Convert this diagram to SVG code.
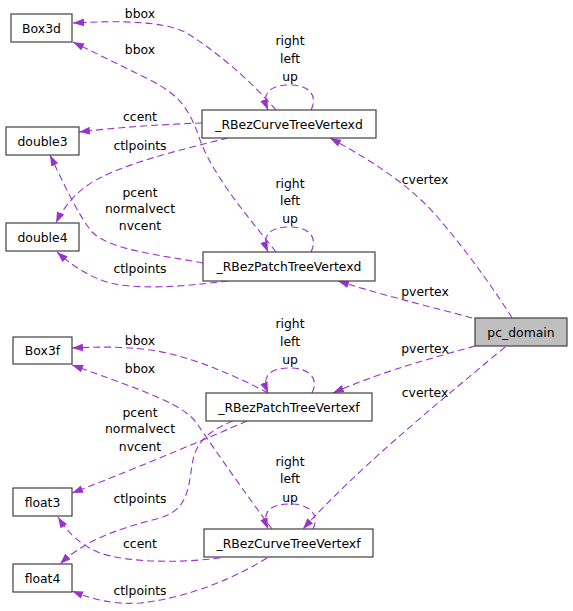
<svg xmlns="http://www.w3.org/2000/svg" width="573" height="611" viewBox="0 0 573 611">
<style>
.n rect{fill:#ffffff;stroke:#404040;stroke-width:1.2}
.n.hl rect{fill:#bfbfbf}
text{font-family:"DejaVu Sans","Liberation Sans",sans-serif;font-size:12.4px;fill:#000;text-anchor:middle}
.e path{fill:none;stroke:#9a32cd;stroke-width:1.1;stroke-dasharray:7,4;marker-end:url(#ah)}
</style>
<defs>
<marker id="ah" viewBox="0 0 10 7" refX="10" refY="3.5" markerWidth="11" markerHeight="8" markerUnits="userSpaceOnUse" orient="auto">
<path d="M0,0 L10,3.5 L0,7 z" fill="#9a32cd"/>
</marker>
</defs>
<rect width="573" height="611" fill="#ffffff"/>
<g id="edges" class="e">
<path d="M276,110 C250,80 215,50 185,32 C160,20 110,21 73,23"/>
<path d="M276,252 C255,225 215,180 200,140 C190,110 180,95 150,80 C120,65 95,53 73,42"/>
<path d="M202,123 C170,124 120,127 79,132"/>
<path d="M228,138 C180,150 115,165 85,187 C72,197 62,210 56,223"/>
<path d="M203,263 C160,255 110,250 92,232 C78,215 62,180 50,155"/>
<path d="M228,281 C200,284 160,290 120,285 C95,281 75,268 57,252"/>
<path d="M512,318 C500,298 470,255 440,220 C415,190 380,165 330,138"/>
<path d="M472,318 C440,309 385,296 338,281"/>
<path d="M475,346 C440,356 385,370 333,393"/>
<path d="M505,347 C460,385 360,465 303,529"/>
<path d="M268,393 C240,378 190,355 150,350 C120,346 95,347 72,348"/>
<path d="M272,529 C250,500 215,450 198,425 C185,405 150,393 72,365"/>
<path d="M247,421 C210,437 150,463 72,493"/>
<path d="M233,421 C205,432 195,445 192,465 C188,495 185,510 160,518 C120,528 85,540 60,564"/>
<path d="M220,558 C180,563 130,563 100,553 C80,545 68,533 58,517"/>
<path d="M267,558 C240,575 190,598 140,603 C110,605 90,598 72,591"/>
<path d="M311,110 C318,96 310,85 290,85 C274,85 260,90 268,110"/>
<path d="M311,252 C318,238 310,227 290,227 C274,227 260,232 268,252"/>
<path d="M312,393 C319,379 310,368 290,368 C274,368 260,373 268,393"/>
<path d="M313,529 C320,515 310,504 290,504 C274,504 260,509 268,529"/>
</g>
<g id="edge-labels">
<text x="140" y="17.5">bbox</text>
<text x="140" y="53.5">bbox</text>
<text x="140" y="120.5">ccent</text>
<text x="140" y="149.5">ctlpoints</text>
<text x="140" y="196.5">pcent</text>
<text x="140" y="212.5">normalvect</text>
<text x="140" y="229.5">nvcent</text>
<text x="140" y="272.5">ctlpoints</text>
<text x="290" y="44.5">right</text>
<text x="290" y="62.5">left</text>
<text x="290" y="80.5">up</text>
<text x="290" y="187.5">right</text>
<text x="290" y="204.5">left</text>
<text x="290" y="222.5">up</text>
<text x="425" y="183.5">cvertex</text>
<text x="425" y="295.5">pvertex</text>
<text x="425" y="352.5">pvertex</text>
<text x="425" y="396.5">cvertex</text>
<text x="140" y="344.5">bbox</text>
<text x="140" y="372.5">bbox</text>
<text x="140" y="416.5">pcent</text>
<text x="140" y="433">normalvect</text>
<text x="140" y="450.5">nvcent</text>
<text x="140" y="502.5">ctlpoints</text>
<text x="140" y="547.5">ccent</text>
<text x="140" y="594.5">ctlpoints</text>
<text x="290" y="327.5">right</text>
<text x="290" y="345.5">left</text>
<text x="290" y="363.5">up</text>
<text x="290" y="465.5">right</text>
<text x="290" y="482.5">left</text>
<text x="290" y="501.5">up</text>
</g>
<g id="Box3d" class="n"><rect x="11" y="14" width="61" height="28"/><text x="41.5" y="32.5">Box3d</text></g>
<g id="RBezCurveTreeVertexd" class="n"><rect x="202" y="110" width="174" height="28"/><text x="289" y="128.5">_RBezCurveTreeVertexd</text></g>
<g id="double3" class="n"><rect x="6" y="127" width="73" height="28"/><text x="42.5" y="145.5">double3</text></g>
<g id="double4" class="n"><rect x="6" y="223" width="73" height="28"/><text x="42.5" y="241.5">double4</text></g>
<g id="RBezPatchTreeVertexd" class="n"><rect x="203" y="252" width="172" height="29"/><text x="289" y="271">_RBezPatchTreeVertexd</text></g>
<g id="pc_domain" class="n hl"><rect x="475" y="318" width="92" height="28"/><text x="521" y="336.5">pc_domain</text></g>
<g id="Box3f" class="n"><rect x="13" y="337" width="59" height="27"/><text x="42.5" y="355">Box3f</text></g>
<g id="RBezPatchTreeVertexf" class="n"><rect x="206" y="393" width="166" height="28"/><text x="289" y="411.5">_RBezPatchTreeVertexf</text></g>
<g id="float3" class="n"><rect x="13" y="488" width="59" height="28"/><text x="42.5" y="506.5">float3</text></g>
<g id="RBezCurveTreeVertexf" class="n"><rect x="204" y="529" width="169" height="28"/><text x="288.5" y="547.5">_RBezCurveTreeVertexf</text></g>
<g id="float4" class="n"><rect x="13" y="564" width="59" height="28"/><text x="42.5" y="582.5">float4</text></g>
</svg>
